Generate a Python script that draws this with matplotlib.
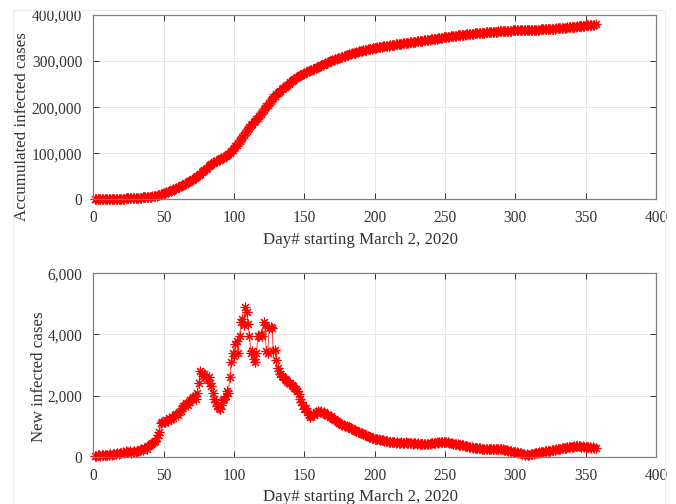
import numpy as np
import matplotlib
matplotlib.use("Agg")
import matplotlib.pyplot as plt
from matplotlib.ticker import FuncFormatter
from matplotlib.patches import Rectangle

# Daily new infected cases, day 1 .. 357
new_cases = [
    30, 20, 40, 50, 30, 60, 40, 50, 70, 60,
    60, 80, 70, 90, 100, 80, 110, 90, 120, 130,
    150, 120, 200, 160, 140, 180, 130, 170, 190, 160,
    200, 180, 220, 250, 230, 280, 300, 260, 350, 380,
    400, 450, 480, 520, 600, 700, 800, 1100, 1150, 1120,
    1150, 1200, 1180, 1250, 1220, 1300, 1280, 1350, 1400, 1380,
    1450, 1500, 1600, 1650, 1700, 1750, 1700, 1800, 1850, 1900,
    1950, 2000, 1900, 2100, 2400, 2800, 2750, 2650, 2700, 2600,
    2550, 2600, 2400, 2300, 2100, 1900, 1800, 1650, 1600, 1550,
    1700, 1850, 1900, 2000, 2150, 2100, 2600, 3100, 3400, 3300,
    3700, 3800, 3400, 3950, 4400, 4500, 4300, 4900, 4750, 4350,
    3950, 3400, 3450, 3200, 3100, 3400, 3950, 3950, 4000, 3950,
    4400, 4300, 3450, 3400, 4200, 4250, 4200, 3450, 3500, 3150,
    2900, 2800, 2700, 2650, 2600, 2550, 2500, 2450, 2400, 2400,
    2350, 2300, 2250, 2200, 2150, 2050, 1900, 1800, 1700, 1550,
    1600, 1450, 1350, 1300, 1350, 1400, 1380, 1450, 1420, 1500,
    1460, 1480, 1420, 1450, 1400, 1380, 1350, 1300, 1320, 1250,
    1230, 1200, 1180, 1150, 1100, 1080, 1050, 1030, 1000, 990,
    970, 960, 930, 900, 880, 870, 840, 820, 800, 790,
    770, 750, 720, 700, 680, 660, 640, 620, 600, 580,
    590, 580, 570, 550, 540, 530, 520, 510, 500, 490,
    480, 490, 470, 480, 460, 470, 450, 460, 470, 450,
    460, 470, 450, 440, 460, 450, 430, 440, 450, 430,
    440, 420, 430, 410, 420, 410, 420, 430, 420, 440,
    450, 440, 460, 470, 460, 480, 470, 480, 490, 480,
    470, 480, 460, 450, 440, 430, 420, 410, 400, 390,
    380, 390, 370, 360, 350, 340, 330, 320, 310, 300,
    290, 290, 280, 270, 270, 260, 260, 250, 250, 240,
    250, 240, 250, 260, 250, 240, 250, 260, 250, 240,
    240, 230, 220, 220, 200, 190, 190, 170, 160, 160,
    140, 130, 110, 110, 90, 80, 70, 80, 60, 70,
    80, 90, 100, 110, 120, 130, 140, 150, 160, 170,
    180, 180, 190, 200, 200, 210, 220, 230, 240, 250,
    260, 260, 270, 280, 290, 300, 310, 310, 320, 330,
    330, 340, 340, 350, 340, 340, 330, 340, 330, 320,
    330, 310, 320, 300, 310, 290, 300,
]
days = np.arange(1, len(new_cases) + 1)
accumulated = np.cumsum(new_cases)

x_ticks = [0, 50, 100, 150, 200, 250, 300, 350, 400]
top_yticks = [0, 100000, 200000, 300000, 400000]
bottom_yticks = [0, 2000, 4000, 6000]
xlabel_text = "Day# starting March 2, 2020"
top_ylabel = "Accumulated infected cases"
bottom_ylabel = "New infected cases"

plt.rcParams['font.family'] = ['Liberation Serif', 'DejaVu Serif']

W, H = 676, 504
fig = plt.figure(figsize=(W / 100, H / 100), dpi=100)
fig.patches.append(Rectangle((13 / W, 0), (665 - 13) / W, 1 - 10 / H,
                             transform=fig.transFigure, fill=False,
                             edgecolor='#ececec', linewidth=0.8))

ax_col = '#333333'
grid_col = '#e6e6e6'
marker = (8, 2, 0)


def style(ax, yticks, ylim, ylabel, ylab_xy):
    ax.set_xlim(0, 400)
    ax.set_ylim(*ylim)
    ax.set_xticks(x_ticks)
    ax.set_yticks(yticks)
    ax.yaxis.set_major_formatter(FuncFormatter(lambda v, p: f"{v:,.0f}"))
    ax.grid(True, color=grid_col, linewidth=0.7)
    ax.set_axisbelow(True)
    ax.tick_params(direction='in', top=True, right=True, length=4,
                   width=0.7, colors=ax_col, labelsize=11.2, pad=8)
    for s in ax.spines.values():
        s.set_color('#808080')
        s.set_linewidth(0.9)
    ax.set_xlabel(xlabel_text, fontsize=12.2, color=ax_col, labelpad=4)
    ax.xaxis.label.set_x(0.475)
    ax.set_ylabel(ylabel, fontsize=12.2, color=ax_col)
    ax.yaxis.set_label_coords(*ylab_xy)


ax1 = fig.add_axes([93.3 / W, 1 - 199.3 / H, (656 - 93.3) / W, (199.3 - 15) / H])
ax1.plot(days, accumulated, color='red', linewidth=0.5, marker=marker,
         markersize=7, markeredgewidth=0.8, clip_on=False)
style(ax1, top_yticks, (0, 400000), top_ylabel, (-0.112, 0.392))

ax2 = fig.add_axes([93.3 / W, 1 - 456.7 / H, (656 - 93.3) / W, (456.7 - 273.3) / H])
ax2.plot(days, new_cases, color='red', linewidth=0.5, marker=marker,
         markersize=7, markeredgewidth=0.8, clip_on=False)
style(ax2, bottom_yticks, (0, 6000), bottom_ylabel, (-0.082, 0.436))

fig.savefig("out.png", dpi=100)
